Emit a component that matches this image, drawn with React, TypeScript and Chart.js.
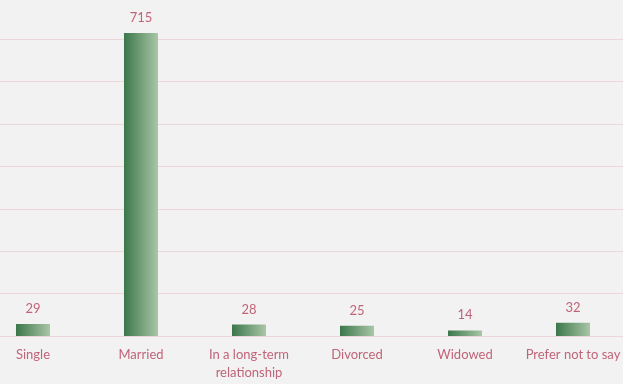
import React, { useEffect, useRef } from "react";
import { Chart, registerables } from "chart.js";

Chart.register(...registerables);

const categories: (string | string[])[] = [
  "Single",
  "Married",
  ["In a long-term", "relationship"],
  "Divorced",
  "Widowed",
  "Prefer not to say",
];
const counts: number[] = [29, 715, 28, 25, 14, 32];
const yMax = 800;
const yStep = 100;

const TEXT = "#c0647a";
const GRID = "#ecd6db";
const BG = "#f2f2f2";
const FONT = "Lato, 'Open Sans', sans-serif";

export default function App() {
  const ref = useRef<HTMLCanvasElement | null>(null);
  useEffect(() => {
    if (!ref.current) return;
    const barPct = 0.315;
    const labelPlugin = {
      id: "valueLabels",
      afterDatasetsDraw(chart: any) {
        const ctx = chart.ctx;
        const meta = chart.getDatasetMeta(0);
        ctx.save();
        ctx.fillStyle = TEXT;
        ctx.font = `13px ${FONT}`;
        ctx.textAlign = "center";
        ctx.textBaseline = "alphabetic";
        meta.data.forEach((el: any, i: number) => {
          ctx.fillText(String(counts[i]), el.x, el.y - 11);
        });
        ctx.restore();
      },
    };
    const chart = new Chart(ref.current, {
      type: "bar",
      data: {
        labels: categories,
        datasets: [
          {
            data: counts,
            barPercentage: barPct,
            categoryPercentage: 1,
            backgroundColor: (c: any) => {
              const ch = c.chart;
              const xs = ch.scales?.x;
              if (!xs || !ch.chartArea) return "#5f8f68";
              const cx = xs.getPixelForValue(c.dataIndex);
              const w = (xs.width / categories.length) * barPct;
              const g = ch.ctx.createLinearGradient(cx - w / 2, 0, cx + w / 2, 0);
              g.addColorStop(0, "#3b774a");
              g.addColorStop(1, "#aac6a7");
              return g;
            },
            borderWidth: 0,
          },
        ],
      },
      options: {
        animation: false,
        responsive: false,
        maintainAspectRatio: false,
        layout: { padding: { left: 0, right: 0, top: 0, bottom: 14 } },
        plugins: { legend: { display: false }, tooltip: { enabled: false } },
        scales: {
          x: {
            grid: { display: false },
            border: { display: false },
            ticks: {
              color: TEXT,
              font: { family: FONT, size: 13, lineHeight: 1.33 },
              padding: 2,
              maxRotation: 0,
              autoSkip: false,
            },
          },
          y: {
            min: 0,
            max: yMax,
            grid: { color: GRID, lineWidth: 1, drawTicks: false },
            border: { display: false },
            ticks: { display: false, stepSize: yStep },
          },
        },
      },
      plugins: [labelPlugin],
    });
    return () => chart.destroy();
  }, []);
  return (
    <div
      style={{
        position: "fixed",
        left: 0,
        top: 0,
        width: 623,
        height: 384,
        overflow: "hidden",
        background: BG,
      }}
    >
      <div style={{ position: "absolute", left: -21, top: -3 }}>
        <canvas ref={ref} width={648} height={400} />
      </div>
    </div>
  );
}
